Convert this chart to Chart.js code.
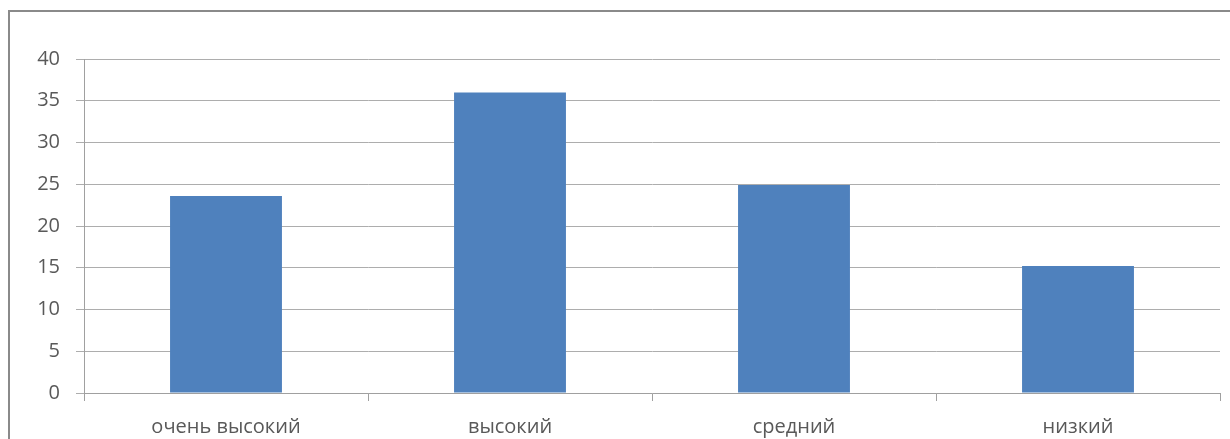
<!DOCTYPE html>
<html>
<head>
<meta charset="utf-8">
<script src="https://cdn.jsdelivr.net/npm/chart.js@4"></script>
<style>
  body { margin: 0; background: #fff; }
  #frame {
    position: absolute; left: 8px; top: 10px; width: 1240px; height: 440px;
    border-left: 2px solid #8a8a8a; border-top: 2px solid #8a8a8a;
  }
  #wrap { position: absolute; left: 0; top: 0; width: 1230px; height: 439px; }
</style>
</head>
<body>
<div id="frame"></div>
<div id="wrap"><canvas id="chart"></canvas></div>
<script>
// levels and their values (%)
const categories = ['очень высокий', 'высокий', 'средний', 'низкий'];
const values = [23.6, 36, 24.9, 15.2];
const yTicks = [0, 5, 10, 15, 20, 25, 30, 35, 40];

const labelFont = { family: 'Open Sans', size: 20 };

new Chart(document.getElementById('chart'), {
  type: 'bar',
  data: {
    labels: categories,
    datasets: [{
      data: values,
      backgroundColor: '#4f81bd',
      borderWidth: 0,
      categoryPercentage: 1,
      barPercentage: 0.394
    }]
  },
  options: {
    responsive: true,
    maintainAspectRatio: false,
    animation: false,
    layout: { padding: { top: 59, right: 10, left: 0, bottom: 0 } },
    plugins: { legend: { display: false }, tooltip: { enabled: false } },
    scales: {
      y: {
        min: yTicks[0],
        max: yTicks[yTicks.length - 1],
        afterFit: s => { s.width = 84; },
        afterBuildTicks: s => { s.ticks = yTicks.map(v => ({ value: v })); },
        ticks: { color: '#595959', font: labelFont, padding: 16 },
        grid: { color: '#adadad', lineWidth: 1, tickLength: 8 },
        border: { display: true, color: '#a0a0a0' }
      },
      x: {
        afterFit: s => { s.height = 46; },
        ticks: { color: '#595959', font: labelFont, padding: 14, maxRotation: 0 },
        grid: { display: true, drawOnChartArea: false, color: '#a0a0a0', tickLength: 8, offset: true },
        border: { display: true, color: '#a0a0a0' }
      }
    }
  }
});
</script>
</body>
</html>
